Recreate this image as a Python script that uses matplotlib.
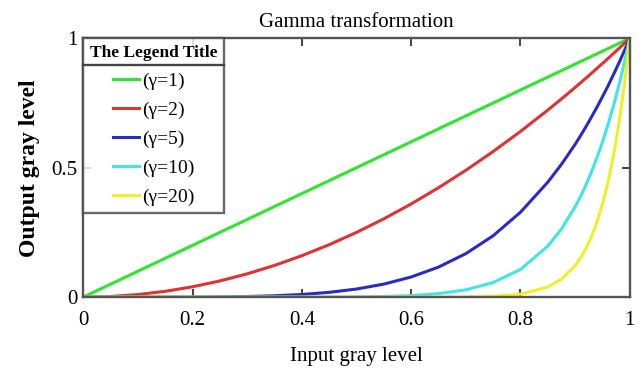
import matplotlib
matplotlib.use("Agg")
import matplotlib.pyplot as plt
from matplotlib.lines import Line2D

plt.rcParams['font.family'] = ['Liberation Serif', 'DejaVu Serif']

# values
x = [0, 0.05, 0.1, 0.15, 0.2, 0.25, 0.3, 0.35, 0.4, 0.45, 0.5, 0.55, 0.6, 0.65, 0.7,
     0.75, 0.8, 0.85, 0.875, 0.9, 0.91, 0.92, 0.93, 0.94, 0.95, 0.96, 0.97, 0.98, 0.99, 1.0]
y_g1 = [0, 0.05, 0.1, 0.15, 0.2, 0.25, 0.3, 0.35, 0.4, 0.45, 0.5, 0.55, 0.6, 0.65, 0.7,
        0.75, 0.8, 0.85, 0.875, 0.9, 0.91, 0.92, 0.93, 0.94, 0.95, 0.96, 0.97, 0.98, 0.99, 1.0]
y_g2 = [0, 0.0025, 0.01, 0.0225, 0.04, 0.0625, 0.09, 0.1225, 0.16, 0.2025, 0.25, 0.3025, 0.36, 0.4225, 0.49,
        0.5625, 0.64, 0.7225, 0.7656, 0.81, 0.8281, 0.8464, 0.8649, 0.8836, 0.9025, 0.9216, 0.9409, 0.9604, 0.9801, 1.0]
y_g5 = [0, 0, 0, 0.0001, 0.0003, 0.001, 0.0024, 0.0053, 0.0102, 0.0185, 0.0313, 0.0503, 0.0778, 0.116, 0.168,
        0.237, 0.328, 0.444, 0.513, 0.59, 0.624, 0.659, 0.696, 0.734, 0.774, 0.815, 0.859, 0.904, 0.951, 1.0]
y_g10 = [0, 0, 0, 0, 0, 0, 0, 0, 0.0001, 0.0003, 0.001, 0.0025, 0.006, 0.0135, 0.0283,
         0.0563, 0.107, 0.197, 0.263, 0.349, 0.389, 0.434, 0.484, 0.539, 0.599, 0.665, 0.737, 0.817, 0.904, 1.0]
y_g20 = [0, 0, 0, 0, 0, 0, 0, 0, 0, 0, 0, 0, 0, 0.0002, 0.0008,
         0.0032, 0.0115, 0.0388, 0.0692, 0.122, 0.152, 0.189, 0.234, 0.29, 0.359, 0.442, 0.544, 0.668, 0.818, 1.0]

labels = ['(γ=1)', '(γ=2)', '(γ=5)', '(γ=10)', '(γ=20)']
colors = ['#2ee62e', '#e03232', '#2a2ac8', '#40e6e6', '#f0f028']
series = [y_g1, y_g2, y_g5, y_g10, y_g20]

fig = plt.figure(figsize=(6.4, 3.79), dpi=100)
ax = fig.add_axes([0.13, 0.216, 0.854, 0.683])

for ys, c, lab in zip(series, colors, labels):
    ax.plot(x, ys, color=c, lw=2.2, label=lab)

ax.set_xlim(0, 1)
ax.set_ylim(0, 1)
ax.set_xticks([0, 0.2, 0.4, 0.6, 0.8, 1])
ax.set_xticklabels(['0', '0.2', '0.4', '0.6', '0.8', '1'])
ax.set_yticks([0, 0.5, 1])
ax.set_yticklabels(['0', '0.5', '1'])
ax.tick_params(direction='in', length=6, width=1.3, color='#333333',
               top=True, right=True, labelsize=15)
ax.tick_params(axis='x', pad=10)
ax.tick_params(axis='y', pad=4)
for s in ax.spines.values():
    s.set_color('#555555')
    s.set_linewidth(1.7)

ax.set_title('Gamma transformation', fontsize=15, pad=8)
ax.set_xlabel('Input gray level', fontsize=15, labelpad=12)
ax.set_ylabel('Output gray level', fontsize=17, fontweight='bold', labelpad=8)

leg = ax.legend(title='The Legend Title', loc='upper left', borderaxespad=0,
                fontsize=14, title_fontproperties={'weight': 'bold', 'size': 12.5},
                frameon=True, fancybox=False, handlelength=1.35, handletextpad=0.15,
                labelspacing=0.58, borderpad=0.35, alignment='center')
leg.get_frame().set_edgecolor('#444444')
leg.get_frame().set_linewidth(1.7)

# separator line under the legend title
fig.canvas.draw()
tb = leg.get_title().get_window_extent()
fb = leg.get_frame().get_window_extent()
inv = fig.transFigure.inverted()
x0, y0 = inv.transform((fb.x0, tb.y0 - 4))
x1, _ = inv.transform((fb.x1, tb.y0 - 4))
fig.add_artist(Line2D([x0, x1], [y0, y0], color='#444444', lw=1.7,
                      transform=fig.transFigure))

fig.savefig('out.png', dpi=100)
